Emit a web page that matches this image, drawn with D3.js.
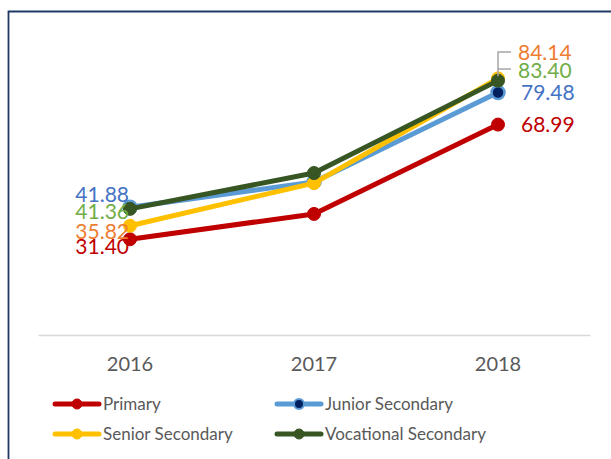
<!DOCTYPE html>
<html><head><meta charset="utf-8">
<script src="https://cdn.jsdelivr.net/npm/d3@7"></script>
<style>body{margin:0;background:#fff}svg{display:block}</style>
</head><body><svg id="c" width="611" height="459"></svg>
<script>
const categories = ["2016", "2017", "2018"];
const seriesNames = ["Primary", "Junior Secondary", "Senior Secondary", "Vocational Secondary"];
const primary = [31.40, 39.7, 68.99];
const juniorSecondary = [41.88, 50.2, 79.48];
const seniorSecondary = [35.82, 49.8, 84.14];
const vocationalSecondary = [41.36, 53.1, 83.40];

const series = [
  {name: seriesNames[0], values: primary, color: "#C00000", mfill: "#C00000", label: "#C00000"},
  {name: seriesNames[1], values: juniorSecondary, color: "#5B9BD5", mfill: "#002060", label: "#4472C4"},
  {name: seriesNames[2], values: seniorSecondary, color: "#FFC000", mfill: "#FFC000", label: "#ED7D31"},
  {name: seriesNames[3], values: vocationalSecondary, color: "#375623", mfill: "#375623", label: "#70AD47"}
];
const drawOrder = [0, 1, 2, 3];

const svg = d3.select("#c");
const font = "Lato, 'Open Sans', sans-serif";

// frame
svg.append("path").attr("d", "M8.5,620 V11.5 H700").attr("fill", "none").attr("stroke", "#1F3864").attr("stroke-width", 1.8);

const x = d3.scaleBand().domain(categories).range([38, 590]);
const y = d3.scaleLinear().domain([0, 100]).range([335, 30]);
const cx = c => x(c) + x.bandwidth() / 2;

// axis
const ax = svg.append("g").attr("transform", "translate(0,335)").call(d3.axisBottom(x).tickSize(0).tickPadding(22));
ax.select(".domain").attr("stroke", "#D9D9D9").attr("stroke-width", 1.5);
ax.selectAll("text").attr("font-family", font).attr("font-size", 20).attr("fill", "#595959");

const line = d3.line().x((d, i) => cx(categories[i])).y(d => y(d));
drawOrder.forEach(k => {
  const s = series[k];
  svg.append("path").datum(s.values).attr("d", line).attr("fill", "none")
    .attr("stroke", s.color).attr("stroke-width", 5).attr("stroke-linejoin", "round");
  svg.selectAll(null).data(s.values).enter().append("circle")
    .attr("cx", (d, i) => cx(categories[i])).attr("cy", d => y(d)).attr("r", 6.5)
    .attr("fill", s.mfill).attr("stroke", s.color).attr("stroke-width", k === 1 ? 2.5 : 1);
});

// leader lines for 2018
const x18 = cx("2018");
svg.append("path").attr("d", `M${x18},${y(seniorSecondary[2]) - 2} V52 H511 M${x18},69 H511`)
  .attr("fill", "none").attr("stroke", "#A6A6A6").attr("stroke-width", 1.5);

// data labels
const lab2016 = [{s: 1, y: 194}, {s: 3, y: 211}, {s: 2, y: 231}, {s: 0, y: 246}];
lab2016.forEach(l => {
  const s = series[l.s];
  svg.append("text").attr("x", 129).attr("y", l.y).attr("dy", "0.36em")
    .attr("text-anchor", "end").attr("font-family", font).attr("font-size", 21).attr("fill", s.label)
    .text(s.values[0].toFixed(2));
});
const lab2018 = [{s: 2, y: 52, x: 518}, {s: 3, y: 70, x: 518}, {s: 1, y: 92, x: 521}, {s: 0, y: 124.5, x: 521}];
lab2018.forEach(l => {
  const s = series[l.s];
  svg.append("text").attr("x", l.x).attr("y", l.y).attr("dy", "0.36em")
    .attr("font-family", font).attr("font-size", 21).attr("fill", s.label)
    .text(s.values[2].toFixed(2));
});

// legend
const legPos = [[53, 404], [275, 404], [53, 434], [275, 434]];
series.forEach((s, k) => {
  const [lx, ly] = legPos[k];
  const g = svg.append("g");
  g.append("line").attr("x1", lx + 2).attr("x2", lx + 46).attr("y1", ly).attr("y2", ly)
    .attr("stroke", s.color).attr("stroke-width", 5).attr("stroke-linecap", "round");
  g.append("circle").attr("cx", lx + 24).attr("cy", ly).attr("r", 5)
    .attr("fill", s.mfill).attr("stroke", s.color).attr("stroke-width", k === 1 ? 2 : 1);
  g.append("text").attr("x", lx + 50).attr("y", ly).attr("dy", "0.36em")
    .attr("font-family", font).attr("font-size", 17).attr("fill", "#595959").text(s.name);
});
</script></body></html>
